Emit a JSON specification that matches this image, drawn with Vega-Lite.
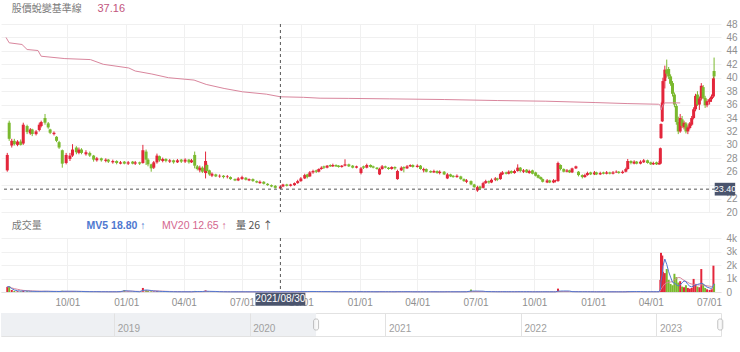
{
"$schema":"https://vega.github.io/schema/vega-lite/v6.json",
"padding":{"left":0,"top":3,"right":0,"bottom":0},
"bounds":"flush",
"spacing":26,
"datasets":{
"k":[
{"d":"2020-06-29","o":26.2,"h":28.8,"l":26.0,"c":28.5,"v":380,"m5":380,"m20":380},
{"d":"2020-07-02","o":33.3,"h":33.6,"l":30.6,"c":30.9,"v":420,"m5":400,"m20":400},
{"d":"2020-07-06","o":29.9,"h":30.9,"l":29.6,"c":30.6,"v":150,"m5":250,"m20":300},
{"d":"2020-07-10","o":30.6,"h":30.9,"l":29.9,"c":30.1,"v":80,"m5":150,"m20":250},
{"d":"2020-07-15","o":30.0,"h":30.7,"l":29.8,"c":30.5,"v":60,"m5":90,"m20":200},
{"d":"2020-07-20","o":30.5,"h":30.8,"l":29.9,"c":30.0,"v":50,"m5":70,"m20":150},
{"d":"2020-07-24","o":30.2,"h":33.3,"l":30.0,"c":33.0,"v":120,"m5":80,"m20":120},
{"d":"2020-07-30","o":32.8,"h":33.0,"l":31.6,"c":31.9,"v":60,"m5":70,"m20":100},
{"d":"2020-08-04","o":31.7,"h":32.5,"l":31.5,"c":32.3,"v":40,"m5":60,"m20":90},
{"d":"2020-08-07","o":32.3,"h":32.4,"l":31.3,"c":31.6,"v":35,"m5":50,"m20":80},
{"d":"2020-08-13","o":31.6,"h":32.2,"l":31.4,"c":32.0,"v":30,"m5":45,"m20":70},
{"d":"2020-08-18","o":32.2,"h":33.3,"l":32.0,"c":33.0,"v":60,"m5":45,"m20":60},
{"d":"2020-08-21","o":32.8,"h":33.6,"l":32.6,"c":33.4,"v":50,"m5":45,"m20":55},
{"d":"2020-08-27","o":34.0,"h":34.6,"l":33.0,"c":33.3,"v":70,"m5":50,"m20":55},
{"d":"2020-09-01","o":33.2,"h":33.4,"l":32.4,"c":32.6,"v":40,"m5":50,"m20":50},
{"d":"2020-09-04","o":32.3,"h":32.4,"l":31.6,"c":31.8,"v":30,"m5":45,"m20":50},
{"d":"2020-09-10","o":31.6,"h":32.0,"l":31.4,"c":31.8,"v":25,"m5":40,"m20":45},
{"d":"2020-09-14","o":31.2,"h":31.3,"l":30.4,"c":30.6,"v":35,"m5":40,"m20":45},
{"d":"2020-09-18","o":30.4,"h":30.6,"l":29.4,"c":29.6,"v":40,"m5":35,"m20":45},
{"d":"2020-09-23","o":29.2,"h":29.3,"l":26.6,"c":27.2,"v":90,"m5":50,"m20":45},
{"d":"2020-09-29","o":27.3,"h":28.8,"l":27.1,"c":28.5,"v":60,"m5":55,"m20":45},
{"d":"2020-10-05","o":27.9,"h":28.8,"l":27.6,"c":28.4,"v":40,"m5":55,"m20":45},
{"d":"2020-10-09","o":28.4,"h":30.1,"l":28.2,"c":29.3,"v":70,"m5":55,"m20":45},
{"d":"2020-10-15","o":29.6,"h":29.8,"l":28.6,"c":28.9,"v":40,"m5":50,"m20":45},
{"d":"2020-10-19","o":28.8,"h":29.6,"l":28.6,"c":29.3,"v":30,"m5":45,"m20":45},
{"d":"2020-10-23","o":29.3,"h":29.5,"l":28.6,"c":28.8,"v":25,"m5":40,"m20":45},
{"d":"2020-10-30","o":28.6,"h":29.2,"l":28.4,"c":28.9,"v":20,"m5":30,"m20":40},
{"d":"2020-11-05","o":28.8,"h":29.0,"l":28.2,"c":28.4,"v":25,"m5":25,"m20":35},
{"d":"2020-11-11","o":28.4,"h":28.5,"l":27.5,"c":27.8,"v":30,"m5":25,"m20":30},
{"d":"2020-11-16","o":27.7,"h":28.2,"l":27.5,"c":28.0,"v":20,"m5":25,"m20":30},
{"d":"2020-11-23","o":28.0,"h":28.1,"l":27.5,"c":27.7,"v":15,"m5":20,"m20":25},
{"d":"2020-11-30","o":27.6,"h":28.0,"l":27.4,"c":27.8,"v":15,"m5":20,"m20":25},
{"d":"2020-12-04","o":27.8,"h":27.9,"l":27.3,"c":27.5,"v":20,"m5":18,"m20":22},
{"d":"2020-12-11","o":27.4,"h":27.8,"l":27.2,"c":27.6,"v":15,"m5":18,"m20":20},
{"d":"2020-12-17","o":27.6,"h":27.7,"l":27.1,"c":27.3,"v":20,"m5":18,"m20":20},
{"d":"2020-12-23","o":27.2,"h":27.6,"l":27.1,"c":27.4,"v":60,"m5":30,"m20":22},
{"d":"2020-12-29","o":27.5,"h":27.6,"l":27.1,"c":27.2,"v":150,"m5":90,"m20":60},
{"d":"2021-01-04","o":27.2,"h":27.6,"l":27.0,"c":27.4,"v":40,"m5":80,"m20":60},
{"d":"2021-01-11","o":27.5,"h":27.6,"l":27.1,"c":27.2,"v":20,"m5":60,"m20":55},
{"d":"2021-01-15","o":27.2,"h":27.6,"l":27.0,"c":27.4,"v":15,"m5":40,"m20":50},
{"d":"2021-01-22","o":27.4,"h":27.5,"l":27.0,"c":27.2,"v":15,"m5":20,"m20":45},
{"d":"2021-01-27","o":27.3,"h":30.0,"l":27.2,"c":29.2,"v":300,"m5":120,"m20":70},
{"d":"2021-02-01","o":29.0,"h":29.3,"l":27.0,"c":27.8,"v":150,"m5":150,"m20":80},
{"d":"2021-02-04","o":27.8,"h":28.0,"l":26.8,"c":27.1,"v":80,"m5":140,"m20":85},
{"d":"2021-02-09","o":27.1,"h":27.2,"l":26.0,"c":26.5,"v":60,"m5":110,"m20":85},
{"d":"2021-02-13","o":26.6,"h":27.6,"l":26.4,"c":27.4,"v":50,"m5":80,"m20":80},
{"d":"2021-02-18","o":27.4,"h":28.7,"l":27.2,"c":28.4,"v":70,"m5":60,"m20":80},
{"d":"2021-02-22","o":28.3,"h":28.4,"l":27.5,"c":27.7,"v":30,"m5":50,"m20":70},
{"d":"2021-02-27","o":27.6,"h":28.1,"l":27.4,"c":27.9,"v":20,"m5":40,"m20":60},
{"d":"2021-03-04","o":27.9,"h":28.0,"l":27.4,"c":27.6,"v":20,"m5":35,"m20":50},
{"d":"2021-03-10","o":27.5,"h":27.9,"l":27.3,"c":27.7,"v":15,"m5":25,"m20":40},
{"d":"2021-03-16","o":27.7,"h":27.8,"l":27.2,"c":27.4,"v":15,"m5":20,"m20":35},
{"d":"2021-03-22","o":27.4,"h":27.9,"l":27.3,"c":27.7,"v":20,"m5":18,"m20":30},
{"d":"2021-03-28","o":27.8,"h":27.9,"l":27.3,"c":27.5,"v":15,"m5":18,"m20":25},
{"d":"2021-04-03","o":27.5,"h":28.0,"l":27.3,"c":27.8,"v":20,"m5":18,"m20":22},
{"d":"2021-04-09","o":27.8,"h":27.9,"l":27.2,"c":27.4,"v":15,"m5":18,"m20":20},
{"d":"2021-04-13","o":27.4,"h":27.9,"l":27.3,"c":27.7,"v":15,"m5":17,"m20":18},
{"d":"2021-04-18","o":28.5,"h":29.0,"l":26.5,"c":26.9,"v":80,"m5":30,"m20":22},
{"d":"2021-04-22","o":26.8,"h":27.0,"l":26.2,"c":26.4,"v":40,"m5":35,"m20":25},
{"d":"2021-04-26","o":26.2,"h":26.9,"l":25.9,"c":26.6,"v":25,"m5":35,"m20":25},
{"d":"2021-04-30","o":26.6,"h":26.8,"l":25.8,"c":26.0,"v":25,"m5":35,"m20":25},
{"d":"2021-05-05","o":25.8,"h":29.0,"l":25.0,"c":27.6,"v":120,"m5":60,"m20":35},
{"d":"2021-05-07","o":27.0,"h":27.2,"l":25.8,"c":26.1,"v":50,"m5":55,"m20":35},
{"d":"2021-05-11","o":26.2,"h":26.3,"l":25.4,"c":25.6,"v":30,"m5":50,"m20":35},
{"d":"2021-05-15","o":25.4,"h":25.9,"l":25.2,"c":25.7,"v":20,"m5":45,"m20":35},
{"d":"2021-05-21","o":25.6,"h":25.7,"l":25.2,"c":25.3,"v":15,"m5":40,"m20":32},
{"d":"2021-05-27","o":25.3,"h":25.6,"l":25.1,"c":25.4,"v":15,"m5":25,"m20":30},
{"d":"2021-06-02","o":25.4,"h":25.5,"l":25.0,"c":25.2,"v":15,"m5":18,"m20":28},
{"d":"2021-06-08","o":25.2,"h":25.5,"l":25.0,"c":25.3,"v":15,"m5":16,"m20":25},
{"d":"2021-06-13","o":25.2,"h":25.3,"l":24.8,"c":24.9,"v":15,"m5":15,"m20":22},
{"d":"2021-06-20","o":24.9,"h":25.0,"l":24.6,"c":24.7,"v":15,"m5":15,"m20":20},
{"d":"2021-06-25","o":24.7,"h":25.2,"l":24.6,"c":25.0,"v":20,"m5":16,"m20":18},
{"d":"2021-07-01","o":24.9,"h":25.4,"l":24.8,"c":25.2,"v":20,"m5":17,"m20":16},
{"d":"2021-07-07","o":25.1,"h":25.2,"l":24.7,"c":24.8,"v":15,"m5":17,"m20":15},
{"d":"2021-07-12","o":24.7,"h":25.0,"l":24.6,"c":24.9,"v":10,"m5":15,"m20":15},
{"d":"2021-07-18","o":24.9,"h":25.0,"l":24.5,"c":24.6,"v":10,"m5":14,"m20":14},
{"d":"2021-07-24","o":24.6,"h":24.7,"l":24.3,"c":24.4,"v":10,"m5":13,"m20":13},
{"d":"2021-07-29","o":24.3,"h":24.7,"l":24.2,"c":24.5,"v":10,"m5":11,"m20":13},
{"d":"2021-08-04","o":24.5,"h":24.6,"l":24.1,"c":24.2,"v":10,"m5":10,"m20":12},
{"d":"2021-08-10","o":24.2,"h":24.3,"l":23.9,"c":24.0,"v":15,"m5":11,"m20":12},
{"d":"2021-08-16","o":24.0,"h":24.1,"l":23.7,"c":23.8,"v":20,"m5":13,"m20":12},
{"d":"2021-08-22","o":23.9,"h":24.0,"l":23.5,"c":23.6,"v":25,"m5":16,"m20":12},
{"d":"2021-08-30","o":23.5,"h":24.0,"l":23.4,"c":23.8,"v":26,"m5":18.8,"m20":12.65},
{"d":"2021-09-03","o":23.8,"h":24.2,"l":23.7,"c":24.1,"v":20,"m5":19,"m20":13},
{"d":"2021-09-09","o":24.1,"h":24.2,"l":23.8,"c":23.9,"v":15,"m5":19,"m20":14},
{"d":"2021-09-15","o":23.9,"h":24.2,"l":23.8,"c":24.1,"v":15,"m5":18,"m20":14},
{"d":"2021-09-21","o":24.0,"h":24.4,"l":23.9,"c":24.3,"v":20,"m5":17,"m20":15},
{"d":"2021-09-26","o":24.3,"h":24.8,"l":24.2,"c":24.6,"v":30,"m5":20,"m20":17},
{"d":"2021-10-01","o":24.6,"h":25.2,"l":24.5,"c":25.0,"v":40,"m5":25,"m20":19},
{"d":"2021-10-07","o":25.0,"h":25.7,"l":24.9,"c":25.5,"v":45,"m5":30,"m20":22},
{"d":"2021-10-11","o":25.6,"h":25.7,"l":25.0,"c":25.2,"v":30,"m5":35,"m20":24},
{"d":"2021-10-15","o":25.3,"h":26.1,"l":25.2,"c":25.9,"v":40,"m5":38,"m20":26},
{"d":"2021-10-20","o":25.9,"h":26.3,"l":25.7,"c":26.1,"v":35,"m5":38,"m20":28},
{"d":"2021-10-25","o":26.2,"h":26.3,"l":25.8,"c":26.0,"v":25,"m5":35,"m20":30},
{"d":"2021-10-29","o":26.0,"h":26.5,"l":25.9,"c":26.4,"v":30,"m5":32,"m20":30},
{"d":"2021-11-02","o":26.4,"h":26.8,"l":26.3,"c":26.6,"v":30,"m5":30,"m20":30},
{"d":"2021-11-06","o":26.8,"h":26.9,"l":26.4,"c":26.6,"v":25,"m5":28,"m20":30},
{"d":"2021-11-11","o":26.6,"h":27.0,"l":26.5,"c":26.9,"v":30,"m5":28,"m20":30},
{"d":"2021-11-16","o":27.0,"h":27.1,"l":26.7,"c":26.8,"v":20,"m5":27,"m20":30},
{"d":"2021-11-20","o":26.8,"h":27.2,"l":26.7,"c":27.0,"v":25,"m5":26,"m20":29},
{"d":"2021-11-25","o":27.0,"h":27.1,"l":26.7,"c":26.8,"v":20,"m5":24,"m20":28},
{"d":"2021-11-29","o":26.9,"h":27.0,"l":26.6,"c":26.7,"v":20,"m5":23,"m20":27},
{"d":"2021-12-04","o":26.7,"h":27.0,"l":26.6,"c":26.9,"v":20,"m5":21,"m20":26},
{"d":"2021-12-09","o":26.9,"h":27.85,"l":26.8,"c":27.1,"v":40,"m5":25,"m20":26},
{"d":"2021-12-15","o":27.1,"h":27.2,"l":26.7,"c":26.8,"v":20,"m5":24,"m20":25},
{"d":"2021-12-21","o":26.9,"h":27.0,"l":26.5,"c":26.6,"v":15,"m5":23,"m20":24},
{"d":"2021-12-27","o":26.6,"h":26.9,"l":26.5,"c":26.8,"v":15,"m5":22,"m20":23},
{"d":"2022-01-03","o":25.8,"h":26.7,"l":25.6,"c":26.5,"v":30,"m5":24,"m20":23},
{"d":"2022-01-07","o":26.8,"h":26.9,"l":26.4,"c":26.6,"v":20,"m5":20,"m20":23},
{"d":"2022-01-12","o":26.6,"h":27.2,"l":26.5,"c":27.0,"v":20,"m5":20,"m20":22},
{"d":"2022-01-18","o":27.0,"h":27.1,"l":26.6,"c":26.7,"v":15,"m5":20,"m20":22},
{"d":"2022-01-22","o":26.8,"h":26.9,"l":26.5,"c":26.6,"v":15,"m5":19,"m20":21},
{"d":"2022-01-28","o":26.6,"h":26.7,"l":26.3,"c":26.4,"v":15,"m5":17,"m20":20},
{"d":"2022-02-01","o":25.6,"h":26.6,"l":25.5,"c":26.4,"v":35,"m5":20,"m20":21},
{"d":"2022-02-05","o":26.4,"h":27.0,"l":26.3,"c":26.8,"v":20,"m5":20,"m20":21},
{"d":"2022-02-10","o":26.8,"h":26.9,"l":26.5,"c":26.6,"v":15,"m5":20,"m20":20},
{"d":"2022-02-15","o":26.6,"h":26.7,"l":26.3,"c":26.4,"v":15,"m5":20,"m20":20},
{"d":"2022-02-20","o":26.4,"h":26.8,"l":26.3,"c":26.7,"v":15,"m5":19,"m20":19},
{"d":"2022-02-25","o":26.7,"h":26.8,"l":26.3,"c":26.5,"v":15,"m5":17,"m20":19},
{"d":"2022-03-01","o":24.9,"h":26.3,"l":24.8,"c":26.1,"v":40,"m5":22,"m20":20},
{"d":"2022-03-07","o":26.2,"h":26.8,"l":26.1,"c":26.6,"v":20,"m5":22,"m20":20},
{"d":"2022-03-11","o":26.7,"h":26.8,"l":25.9,"c":26.5,"v":20,"m5":22,"m20":20},
{"d":"2022-03-16","o":26.5,"h":27.0,"l":26.4,"c":26.8,"v":15,"m5":22,"m20":20},
{"d":"2022-03-21","o":26.8,"h":27.1,"l":26.7,"c":27.0,"v":15,"m5":21,"m20":20},
{"d":"2022-03-25","o":27.0,"h":27.1,"l":26.6,"c":26.7,"v":15,"m5":17,"m20":20},
{"d":"2022-04-01","o":26.7,"h":27.1,"l":26.6,"c":26.9,"v":15,"m5":16,"m20":19},
{"d":"2022-04-06","o":26.9,"h":27.0,"l":26.3,"c":26.4,"v":20,"m5":16,"m20":19},
{"d":"2022-04-11","o":26.2,"h":26.6,"l":25.9,"c":26.4,"v":20,"m5":17,"m20":18},
{"d":"2022-04-15","o":26.4,"h":26.5,"l":25.9,"c":26.0,"v":15,"m5":17,"m20":18},
{"d":"2022-04-22","o":26.1,"h":26.2,"l":25.8,"c":25.9,"v":15,"m5":17,"m20":18},
{"d":"2022-04-27","o":25.9,"h":26.3,"l":25.8,"c":26.1,"v":15,"m5":17,"m20":17},
{"d":"2022-05-02","o":26.1,"h":26.2,"l":25.7,"c":25.8,"v":15,"m5":16,"m20":17},
{"d":"2022-05-06","o":25.8,"h":26.2,"l":25.6,"c":26.0,"v":15,"m5":15,"m20":17},
{"d":"2022-05-13","o":26.0,"h":26.1,"l":25.5,"c":25.6,"v":15,"m5":15,"m20":16},
{"d":"2022-05-18","o":25.0,"h":25.8,"l":24.9,"c":25.6,"v":30,"m5":18,"m20":17},
{"d":"2022-05-23","o":25.6,"h":25.7,"l":25.2,"c":25.3,"v":15,"m5":18,"m20":17},
{"d":"2022-05-27","o":25.4,"h":25.5,"l":25.1,"c":25.2,"v":15,"m5":18,"m20":17},
{"d":"2022-06-02","o":25.2,"h":25.6,"l":25.1,"c":25.4,"v":15,"m5":18,"m20":17},
{"d":"2022-06-08","o":25.3,"h":25.4,"l":24.8,"c":24.9,"v":20,"m5":18,"m20":17},
{"d":"2022-06-13","o":24.9,"h":25.0,"l":24.5,"c":24.6,"v":25,"m5":18,"m20":17},
{"d":"2022-06-17","o":24.5,"h":24.9,"l":24.3,"c":24.7,"v":20,"m5":19,"m20":17},
{"d":"2022-06-24","o":24.6,"h":24.7,"l":24.0,"c":24.1,"v":180,"m5":70,"m20":25},
{"d":"2022-06-29","o":24.1,"h":24.2,"l":23.6,"c":23.7,"v":60,"m5":70,"m20":28},
{"d":"2022-07-04","o":23.2,"h":23.9,"l":23.0,"c":23.7,"v":50,"m5":70,"m20":30},
{"d":"2022-07-08","o":23.8,"h":23.9,"l":23.3,"c":23.5,"v":25,"m5":65,"m20":30},
{"d":"2022-07-13","o":23.6,"h":24.5,"l":23.5,"c":24.3,"v":30,"m5":60,"m20":30},
{"d":"2022-07-17","o":24.3,"h":24.8,"l":24.2,"c":24.6,"v":25,"m5":35,"m20":30},
{"d":"2022-07-22","o":24.6,"h":24.7,"l":24.2,"c":24.4,"v":15,"m5":30,"m20":28},
{"d":"2022-07-26","o":24.4,"h":25.0,"l":24.3,"c":24.8,"v":20,"m5":25,"m20":28},
{"d":"2022-08-01","o":24.8,"h":25.2,"l":24.6,"c":25.0,"v":20,"m5":22,"m20":26},
{"d":"2022-08-04","o":25.0,"h":25.1,"l":24.6,"c":24.8,"v":15,"m5":20,"m20":25},
{"d":"2022-08-09","o":24.9,"h":25.9,"l":24.8,"c":25.7,"v":30,"m5":20,"m20":24},
{"d":"2022-08-12","o":25.6,"h":26.1,"l":25.5,"c":25.9,"v":25,"m5":22,"m20":22},
{"d":"2022-08-18","o":25.9,"h":26.0,"l":25.6,"c":25.7,"v":15,"m5":21,"m20":20},
{"d":"2022-08-22","o":25.7,"h":26.2,"l":25.6,"c":26.0,"v":20,"m5":21,"m20":20},
{"d":"2022-08-26","o":26.1,"h":26.2,"l":25.7,"c":25.8,"v":15,"m5":21,"m20":20},
{"d":"2022-08-31","o":25.8,"h":26.3,"l":25.7,"c":26.1,"v":20,"m5":19,"m20":20},
{"d":"2022-09-05","o":26.1,"h":27.1,"l":26.0,"c":26.6,"v":35,"m5":21,"m20":21},
{"d":"2022-09-09","o":26.6,"h":26.7,"l":25.9,"c":26.1,"v":20,"m5":22,"m20":21},
{"d":"2022-09-14","o":26.0,"h":26.4,"l":25.8,"c":26.2,"v":15,"m5":21,"m20":21},
{"d":"2022-09-19","o":26.3,"h":26.4,"l":25.8,"c":25.9,"v":15,"m5":21,"m20":20},
{"d":"2022-09-23","o":25.8,"h":26.3,"l":25.7,"c":26.1,"v":15,"m5":20,"m20":20},
{"d":"2022-09-28","o":26.2,"h":26.3,"l":25.6,"c":25.7,"v":15,"m5":16,"m20":20},
{"d":"2022-10-03","o":25.9,"h":26.0,"l":25.3,"c":25.4,"v":20,"m5":16,"m20":19},
{"d":"2022-10-07","o":25.5,"h":25.6,"l":25.0,"c":25.1,"v":20,"m5":17,"m20":19},
{"d":"2022-10-11","o":25.2,"h":25.3,"l":24.8,"c":24.9,"v":15,"m5":17,"m20":18},
{"d":"2022-10-14","o":24.9,"h":25.0,"l":24.4,"c":24.5,"v":20,"m5":18,"m20":18},
{"d":"2022-10-21","o":24.4,"h":24.9,"l":24.3,"c":24.7,"v":15,"m5":18,"m20":18},
{"d":"2022-10-25","o":24.7,"h":24.8,"l":24.3,"c":24.4,"v":15,"m5":17,"m20":18},
{"d":"2022-10-31","o":24.4,"h":24.9,"l":24.3,"c":24.7,"v":15,"m5":16,"m20":17},
{"d":"2022-11-03","o":24.6,"h":24.8,"l":24.4,"c":24.7,"v":15,"m5":15,"m20":17},
{"d":"2022-11-07","o":24.6,"h":27.5,"l":24.5,"c":27.3,"v":250,"m5":65,"m20":28},
{"d":"2022-11-11","o":27.0,"h":27.1,"l":26.2,"c":26.4,"v":60,"m5":70,"m20":30},
{"d":"2022-11-16","o":26.4,"h":26.5,"l":25.9,"c":26.0,"v":30,"m5":75,"m20":32},
{"d":"2022-11-21","o":26.0,"h":26.4,"l":25.9,"c":26.2,"v":20,"m5":75,"m20":32},
{"d":"2022-11-25","o":26.2,"h":26.3,"l":25.8,"c":25.9,"v":15,"m5":70,"m20":32},
{"d":"2022-11-29","o":25.9,"h":26.6,"l":25.8,"c":26.5,"v":20,"m5":30,"m20":31},
{"d":"2022-12-05","o":26.5,"h":26.9,"l":26.4,"c":26.8,"v":20,"m5":22,"m20":30},
{"d":"2022-12-09","o":26.0,"h":26.1,"l":25.3,"c":25.5,"v":25,"m5":20,"m20":30},
{"d":"2022-12-15","o":25.5,"h":25.6,"l":25.0,"c":25.2,"v":20,"m5":20,"m20":29},
{"d":"2022-12-19","o":25.2,"h":25.7,"l":25.1,"c":25.5,"v":15,"m5":20,"m20":28},
{"d":"2022-12-23","o":25.5,"h":26.0,"l":25.4,"c":25.8,"v":15,"m5":19,"m20":26},
{"d":"2022-12-28","o":25.9,"h":26.0,"l":25.5,"c":25.6,"v":15,"m5":18,"m20":24},
{"d":"2023-01-03","o":25.6,"h":26.1,"l":25.5,"c":25.9,"v":15,"m5":16,"m20":20},
{"d":"2023-01-06","o":25.9,"h":26.0,"l":25.5,"c":25.6,"v":15,"m5":15,"m20":18},
{"d":"2023-01-12","o":25.6,"h":26.0,"l":25.5,"c":25.8,"v":15,"m5":15,"m20":18},
{"d":"2023-01-17","o":25.9,"h":26.0,"l":25.6,"c":25.7,"v":15,"m5":15,"m20":17},
{"d":"2023-01-22","o":25.7,"h":26.1,"l":25.6,"c":25.9,"v":15,"m5":15,"m20":17},
{"d":"2023-01-27","o":25.9,"h":26.0,"l":25.6,"c":25.7,"v":15,"m5":15,"m20":16},
{"d":"2023-02-01","o":25.7,"h":26.1,"l":25.6,"c":25.9,"v":15,"m5":15,"m20":16},
{"d":"2023-02-06","o":25.9,"h":26.2,"l":25.8,"c":26.0,"v":15,"m5":15,"m20":16},
{"d":"2023-02-10","o":26.0,"h":26.1,"l":25.7,"c":25.8,"v":15,"m5":15,"m20":15},
{"d":"2023-02-16","o":25.8,"h":26.2,"l":25.7,"c":26.0,"v":15,"m5":15,"m20":15},
{"d":"2023-02-21","o":26.0,"h":26.6,"l":25.9,"c":26.4,"v":20,"m5":16,"m20":15},
{"d":"2023-02-24","o":26.4,"h":27.9,"l":26.3,"c":27.6,"v":60,"m5":25,"m20":18},
{"d":"2023-03-01","o":27.6,"h":27.7,"l":27.1,"c":27.3,"v":30,"m5":27,"m20":19},
{"d":"2023-03-06","o":27.2,"h":27.7,"l":27.1,"c":27.5,"v":25,"m5":30,"m20":20},
{"d":"2023-03-10","o":27.5,"h":27.6,"l":27.1,"c":27.2,"v":20,"m5":31,"m20":20},
{"d":"2023-03-16","o":27.2,"h":27.7,"l":27.1,"c":27.5,"v":20,"m5":31,"m20":21},
{"d":"2023-03-21","o":27.4,"h":27.9,"l":27.3,"c":27.7,"v":25,"m5":24,"m20":21},
{"d":"2023-03-27","o":27.7,"h":27.8,"l":27.2,"c":27.3,"v":20,"m5":22,"m20":22},
{"d":"2023-04-01","o":27.4,"h":27.5,"l":27.0,"c":27.1,"v":20,"m5":22,"m20":22},
{"d":"2023-04-05","o":27.1,"h":27.5,"l":27.0,"c":27.3,"v":20,"m5":21,"m20":22},
{"d":"2023-04-10","o":27.4,"h":27.5,"l":27.0,"c":27.1,"v":20,"m5":21,"m20":22},
{"d":"2023-04-14","o":27.1,"h":27.6,"l":27.0,"c":27.3,"v":40,"m5":24,"m20":23},
{"d":"2023-04-16","o":27.2,"h":29.6,"l":27.1,"c":29.5,"v":900,"m5":200,"m20":65},
{"d":"2023-04-17","o":31.0,"h":33.2,"l":30.9,"c":33.1,"v":2900,"m5":780,"m20":210},
{"d":"2023-04-19","o":33.5,"h":36.5,"l":33.4,"c":36.3,"v":2700,"m5":1300,"m20":340},
{"d":"2023-04-20","o":36.0,"h":40.0,"l":35.8,"c":39.5,"v":1500,"m5":1900,"m20":420},
{"d":"2023-04-23","o":39.5,"h":41.8,"l":38.4,"c":41.2,"v":1400,"m5":2440,"m20":600},
{"d":"2023-04-26","o":41.2,"h":42.7,"l":40.0,"c":40.6,"v":1700,"m5":2050,"m20":680},
{"d":"2023-04-29","o":41.3,"h":41.6,"l":39.8,"c":40.2,"v":900,"m5":1500,"m20":720},
{"d":"2023-05-02","o":40.2,"h":40.5,"l":38.8,"c":39.1,"v":600,"m5":1100,"m20":740},
{"d":"2023-05-05","o":39.2,"h":39.5,"l":37.2,"c":37.6,"v":500,"m5":720,"m20":770},
{"d":"2023-05-08","o":37.5,"h":37.8,"l":35.6,"c":36.0,"v":1350,"m5":650,"m20":900},
{"d":"2023-05-11","o":35.8,"h":36.1,"l":33.0,"c":33.4,"v":1100,"m5":550,"m20":1000},
{"d":"2023-05-14","o":33.4,"h":34.2,"l":31.6,"c":32.0,"v":700,"m5":450,"m20":1070},
{"d":"2023-05-17","o":32.0,"h":34.6,"l":31.8,"c":34.0,"v":800,"m5":520,"m20":1060},
{"d":"2023-05-20","o":33.8,"h":34.3,"l":32.5,"c":32.8,"v":400,"m5":680,"m20":960},
{"d":"2023-05-23","o":32.6,"h":33.6,"l":32.3,"c":33.3,"v":350,"m5":820,"m20":860},
{"d":"2023-05-26","o":33.2,"h":33.4,"l":31.7,"c":32.0,"v":500,"m5":760,"m20":790},
{"d":"2023-05-29","o":32.0,"h":32.9,"l":31.6,"c":32.6,"v":300,"m5":560,"m20":710},
{"d":"2023-06-01","o":32.5,"h":33.4,"l":32.3,"c":33.2,"v":250,"m5":430,"m20":630},
{"d":"2023-06-04","o":33.0,"h":34.3,"l":32.8,"c":34.0,"v":300,"m5":380,"m20":590},
{"d":"2023-06-07","o":34.0,"h":35.6,"l":33.8,"c":35.3,"v":970,"m5":450,"m20":570},
{"d":"2023-06-10","o":35.3,"h":37.6,"l":35.0,"c":37.3,"v":600,"m5":520,"m20":550},
{"d":"2023-06-13","o":37.5,"h":38.0,"l":35.8,"c":36.0,"v":400,"m5":560,"m20":530},
{"d":"2023-06-16","o":36.0,"h":37.2,"l":35.2,"c":36.9,"v":350,"m5":600,"m20":520},
{"d":"2023-06-19","o":36.9,"h":39.2,"l":36.6,"c":38.8,"v":1700,"m5":650,"m20":530},
{"d":"2023-06-22","o":38.6,"h":38.9,"l":36.8,"c":37.0,"v":600,"m5":610,"m20":510},
{"d":"2023-06-25","o":37.0,"h":37.3,"l":35.5,"c":35.9,"v":300,"m5":460,"m20":490},
{"d":"2023-06-28","o":35.9,"h":36.8,"l":35.6,"c":36.5,"v":200,"m5":360,"m20":460},
{"d":"2023-07-02","o":36.4,"h":37.0,"l":36.0,"c":36.8,"v":150,"m5":300,"m20":430},
{"d":"2023-07-05","o":36.8,"h":37.5,"l":36.4,"c":37.2,"v":200,"m5":260,"m20":410},
{"d":"2023-07-08","o":37.2,"h":40.2,"l":37.0,"c":39.9,"v":1950,"m5":500,"m20":450},
{"d":"2023-07-09","o":41.0,"h":43.0,"l":39.8,"c":40.2,"v":600,"m5":620,"m20":460}
],
"base":[
{"d":"2020-06-27","v":46.0},{"d":"2020-07-02","v":45.2},{"d":"2020-07-22","v":44.95},{"d":"2020-07-30","v":44.2},{"d":"2020-08-16","v":44.05},{"d":"2020-08-21","v":43.2},{"d":"2020-09-27","v":42.85},{"d":"2020-11-06","v":42.7},{"d":"2020-11-26","v":42.0},{"d":"2021-01-05","v":41.45},{"d":"2021-01-15","v":41.0},{"d":"2021-02-10","v":40.55},{"d":"2021-03-08","v":40.0},{"d":"2021-04-17","v":39.65},{"d":"2021-05-06","v":39.0},{"d":"2021-06-03","v":38.4},{"d":"2021-07-02","v":37.9},{"d":"2021-08-08","v":37.55},{"d":"2021-08-30","v":37.16},{"d":"2021-10-05","v":37.08},{"d":"2021-10-31","v":36.95},{"d":"2021-12-14","v":36.92},{"d":"2022-02-17","v":36.85},{"d":"2022-05-14","v":36.75},{"d":"2022-08-04","v":36.6},{"d":"2022-10-19","v":36.5},{"d":"2023-01-04","v":36.3},{"d":"2023-02-23","v":36.15},{"d":"2023-04-13","v":36.05},{"d":"2023-04-16","v":35.9},{"d":"2023-04-17","v":35.2},{"d":"2023-04-20","v":36.0},{"d":"2023-04-23","v":36.25},{"d":"2023-05-17","v":36.25}
],
"cross":[{"d":"2021-08-30","p":23.4,"lab":"2021/08/30"}],
"navmask":[{"s":"2018-03-02","e":"2020-06-28"}],
"handles":[{"d":"2020-06-28"},{"d":"2023-06-22"}]
},
"vconcat":[
{
"width":720,"height":188,
"layer":[
{"data":{"name":"k"},"mark":{"type":"rule","strokeWidth":1},
 "encoding":{
  "x":{"field":"d","type":"temporal",
   "scale":{"type":"utc","nice":false,"domain":[{"year":2020,"month":6,"date":27,"utc":true},{"year":2023,"month":7,"date":12,"utc":true}]},
   "axis":{"title":null,"labels":false,"ticks":false,"domain":false,"grid":true,"gridColor":"#f0f0f0","tickCount":50,
    "values":[{"year":2020,"month":10,"date":1,"utc":true},{"year":2021,"month":1,"date":1,"utc":true},{"year":2021,"month":4,"date":1,"utc":true},{"year":2021,"month":7,"date":1,"utc":true},{"year":2021,"month":10,"date":1,"utc":true},{"year":2022,"month":1,"date":1,"utc":true},{"year":2022,"month":4,"date":1,"utc":true},{"year":2022,"month":7,"date":1,"utc":true},{"year":2022,"month":10,"date":1,"utc":true},{"year":2023,"month":1,"date":1,"utc":true},{"year":2023,"month":4,"date":1,"utc":true},{"year":2023,"month":7,"date":1,"utc":true}]}},
  "y":{"field":"l","type":"quantitative","scale":{"domain":[20,48],"nice":false,"zero":false},
   "axis":{"orient":"right","title":null,"values":[20,22,24,26,28,30,32,34,36,38,40,42,44,46,48],"tickCount":50,"format":"d","labelExpr":"datum.value==24?'':datum.label","labelOverlap":false,"grid":true,"gridColor":"#f0f0f0","ticks":false,"domain":false,"labelPadding":5}},
  "y2":{"field":"h"},
  "color":{"condition":{"test":"datum.c>=datum.o","value":"#e3263b"},"value":"#7ab92e"}}},
{"data":{"name":"k"},"mark":{"type":"bar","size":3},
 "encoding":{"x":{"field":"d","type":"temporal"},"y":{"field":"o","type":"quantitative"},"y2":{"field":"c"},
  "color":{"condition":{"test":"datum.c>=datum.o","value":"#e3263b"},"value":"#7ab92e"}}},
{"data":{"name":"base"},"mark":{"type":"line","strokeWidth":1,"color":"#d9869d"},
 "encoding":{"x":{"field":"d","type":"temporal"},"y":{"field":"v","type":"quantitative"}}},
{"data":{"name":"cross"},"mark":{"type":"rule","strokeDash":[3,3],"color":"#555555","strokeWidth":1},
 "encoding":{"x":{"field":"d","type":"temporal"}}},
{"data":{"name":"cross"},"mark":{"type":"rule","strokeDash":[3,3],"color":"#555555","strokeWidth":1},
 "encoding":{"y":{"field":"p","type":"quantitative"}}},
{"data":{"name":"cross"},"mark":{"type":"rect","color":"#4a546d"},
 "encoding":{"x":{"datum":{"year":2023,"month":7,"date":10,"utc":true},"type":"temporal"},"x2":{"datum":{"year":2023,"month":8,"date":11,"utc":true}},"y":{"datum":22.45,"type":"quantitative"},"y2":{"datum":24.35}}},
{"data":{"name":"cross"},"mark":{"type":"text","color":"#ffffff","fontSize":9,"font":"Liberation Sans","align":"center","baseline":"middle"},
 "encoding":{"x":{"datum":{"year":2023,"month":7,"date":26,"utc":true},"type":"temporal"},"y":{"field":"p","type":"quantitative"},"text":{"field":"p","type":"quantitative","format":".2f"}}},
{"data":{"name":"cross"},"mark":{"type":"text","color":"#7a7a7a","fontSize":10,"align":"left","baseline":"middle","font":"Noto Sans CJK TC"},
 "encoding":{"x":{"datum":{"year":2020,"month":7,"date":6,"utc":true},"type":"temporal"},"y":{"datum":50.2,"type":"quantitative"},"text":{"value":"股價蛻變基準線"}}},
{"data":{"name":"cross"},"mark":{"type":"text","color":"#c2557d","fontSize":11,"align":"left","baseline":"middle","font":"Liberation Sans"},
 "encoding":{"x":{"datum":{"year":2020,"month":11,"date":17,"utc":true},"type":"temporal"},"y":{"datum":50.2,"type":"quantitative"},"text":{"value":"37.16"}}}
]
},
{
"vconcat":[
{
"width":720,"height":54,
"layer":[
{"data":{"name":"k"},"mark":{"type":"bar","size":2},
 "encoding":{
  "x":{"field":"d","type":"temporal",
   "scale":{"type":"utc","nice":false,"domain":[{"year":2020,"month":6,"date":27,"utc":true},{"year":2023,"month":7,"date":12,"utc":true}]},
   "axis":{"title":null,"format":"%m/%d","ticks":false,"domain":true,"domainColor":"#e0e0e0","grid":true,"gridColor":"#f0f0f0","labelPadding":5,"labelFlush":false,"labelOverlap":false,"tickCount":50,
    "values":[{"year":2020,"month":10,"date":1,"utc":true},{"year":2021,"month":1,"date":1,"utc":true},{"year":2021,"month":4,"date":1,"utc":true},{"year":2021,"month":7,"date":1,"utc":true},{"year":2021,"month":10,"date":1,"utc":true},{"year":2022,"month":1,"date":1,"utc":true},{"year":2022,"month":4,"date":1,"utc":true},{"year":2022,"month":7,"date":1,"utc":true},{"year":2022,"month":10,"date":1,"utc":true},{"year":2023,"month":1,"date":1,"utc":true},{"year":2023,"month":4,"date":1,"utc":true},{"year":2023,"month":7,"date":1,"utc":true}]}},
  "y":{"field":"v","type":"quantitative","scale":{"domain":[0,4000],"nice":false},
   "axis":{"orient":"right","title":null,"values":[0,1000,2000,3000,4000],"tickCount":50,"labelExpr":"datum.value==0?'0':(datum.value/1000)+'k'","labelOverlap":false,"grid":true,"gridColor":"#f0f0f0","ticks":false,"domain":false,"labelPadding":5}},
  "color":{"condition":{"test":"datum.c>=datum.o","value":"#e3263b"},"value":"#7ab92e"}}},
{"data":{"name":"k"},"mark":{"type":"line","strokeWidth":1,"color":"#d9869d"},
 "encoding":{"x":{"field":"d","type":"temporal"},"y":{"field":"m20","type":"quantitative"}}},
{"data":{"name":"k"},"mark":{"type":"line","strokeWidth":1,"color":"#5078d2"},
 "encoding":{"x":{"field":"d","type":"temporal"},"y":{"field":"m5","type":"quantitative"}}},
{"data":{"name":"cross"},"mark":{"type":"rule","strokeDash":[3,3],"color":"#555555","strokeWidth":1},
 "encoding":{"x":{"field":"d","type":"temporal"}}},
{"data":{"name":"cross"},"mark":{"type":"rect","color":"#4a546d"},
 "encoding":{"x":{"datum":{"year":2021,"month":7,"date":22,"utc":true},"type":"temporal"},"x2":{"datum":{"year":2021,"month":10,"date":8,"utc":true}},"y":{"datum":-50,"type":"quantitative"},"y2":{"datum":-1015}}},
{"data":{"name":"cross"},"mark":{"type":"text","color":"#ffffff","fontSize":10,"font":"Liberation Sans","align":"center","baseline":"middle"},
 "encoding":{"x":{"field":"d","type":"temporal"},"y":{"datum":-533,"type":"quantitative"},"text":{"field":"lab"}}},
{"data":{"name":"cross"},"mark":{"type":"text","color":"#7a7a7a","fontSize":10,"align":"left","baseline":"middle","font":"Noto Sans CJK TC"},
 "encoding":{"x":{"datum":{"year":2020,"month":7,"date":6,"utc":true},"type":"temporal"},"y":{"datum":4910,"type":"quantitative"},"text":{"value":"成交量"}}},
{"data":{"name":"cross"},"mark":{"type":"text","color":"#4f78d0","fontSize":10.5,"fontWeight":"bold","align":"left","baseline":"middle","font":"Liberation Sans"},
 "encoding":{"x":{"datum":{"year":2020,"month":10,"date":31,"utc":true},"type":"temporal"},"y":{"datum":4910,"type":"quantitative"},"text":{"value":"MV5 18.80 ↑"}}},
{"data":{"name":"cross"},"mark":{"type":"text","color":"#d4678e","fontSize":10.5,"align":"left","baseline":"middle","font":"Liberation Sans"},
 "encoding":{"x":{"datum":{"year":2021,"month":2,"date":26,"utc":true},"type":"temporal"},"y":{"datum":4910,"type":"quantitative"},"text":{"value":"MV20 12.65 ↑"}}},
{"data":{"name":"cross"},"mark":{"type":"text","color":"#555555","fontSize":10.5,"align":"left","baseline":"middle","font":"Noto Sans CJK TC"},
 "encoding":{"x":{"datum":{"year":2021,"month":6,"date":21,"utc":true},"type":"temporal"},"y":{"datum":4910,"type":"quantitative"},"text":{"value":"量 26 ↑"}}}
]
},
{
"width":720,"height":23,
"view":{"stroke":"#e2e2e2"},
"layer":[
{"data":{"name":"navmask"},"mark":{"type":"rect","color":"#eef0f3"},
 "encoding":{
  "x":{"field":"s","type":"temporal",
   "scale":{"type":"utc","nice":false,"domain":[{"year":2018,"month":3,"date":2,"utc":true},{"year":2023,"month":6,"date":24,"utc":true}]},
   "axis":{"title":null,"format":"%Y","ticks":false,"domain":false,"grid":true,"gridColor":"#e2e2e2","zindex":1,"labelAlign":"left","labelBaseline":"bottom","labelPadding":-3,"labelOffset":3,"labelColor":"#a0a0a0","labelFlush":false,"labelOverlap":false,"tickCount":50,
    "values":[{"year":2019,"month":1,"date":1,"utc":true},{"year":2020,"month":1,"date":1,"utc":true},{"year":2021,"month":1,"date":1,"utc":true},{"year":2022,"month":1,"date":1,"utc":true},{"year":2023,"month":1,"date":1,"utc":true}]}},
  "x2":{"field":"e"}}},
{"data":{"name":"handles"},"mark":{"type":"tick","orient":"vertical","thickness":5,"size":11,"color":"#f7f7f7","stroke":"#a9a9a9","strokeWidth":1,"cornerRadius":2},
 "encoding":{"x":{"field":"d","type":"temporal"},"y":{"datum":0.5,"type":"quantitative","scale":{"domain":[0,1]},"axis":null}}}
]
}
],
"spacing":21,
"bounds":"flush"
}
],
"config":{
 "view":{"stroke":null},
 "axis":{"labelFont":"Liberation Sans","labelFontSize":10,"labelColor":"#8f8f8f","labelOverlap":false},
 "text":{"font":"Noto Sans CJK TC"}
}
}
